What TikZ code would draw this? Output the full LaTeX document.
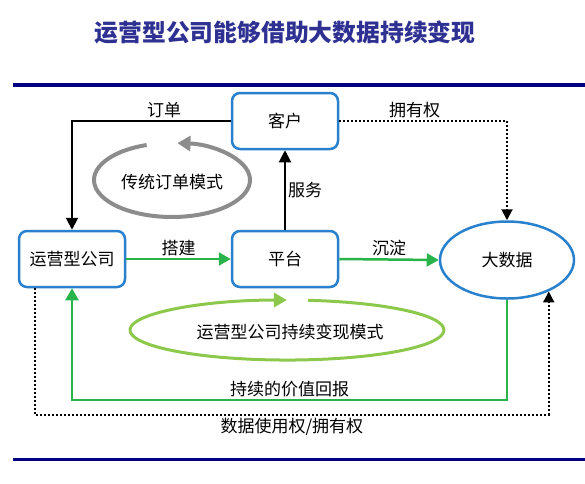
\documentclass[tikz,border=0pt]{standalone}
\usepackage{fontspec}
\setmainfont{Noto Sans CJK SC}
\usetikzlibrary{arrows.meta}
\usetikzlibrary{shapes.geometric}

\definecolor{boxblue}{RGB}{41,128,205}
\definecolor{arrgreen}{RGB}{40,180,75}
\definecolor{cycgreen}{RGB}{140,200,75}
\definecolor{cycgray}{RGB}{140,140,140}
\definecolor{rulenavy}{RGB}{0,0,128}
\definecolor{titleblue}{RGB}{46,49,146}

\begin{document}
\begin{tikzpicture}[x=1pt,y=1pt,
  box/.style={draw=boxblue, line width=2.5pt, rounded corners=8pt,
    minimum width=106pt, minimum height=56pt, font=\fontsize{17}{17}\selectfont},
  bigdata/.style={ellipse, draw=boxblue, line width=2.5pt,
    minimum width=134pt, minimum height=77pt, font=\fontsize{17}{17}\selectfont},
  lbl/.style={font=\fontsize{17}{17}\selectfont, inner sep=2pt},
  blackarr/.style={line width=2pt, -{Triangle[length=12pt,width=12pt]}},
  greenarr/.style={draw=arrgreen, line width=2.5pt, -{Triangle[length=12pt,width=13pt]}, arrgreen},
  dotarr/.style={line width=2pt, dash pattern=on 2pt off 2pt, -{Triangle[length=11pt,width=11pt]}}]

 \useasboundingbox (0,0) rectangle (585,-483);

 % title and rules
 \node[font=\fontsize{23.8}{24}\selectfont\bfseries, text=titleblue] (title) at (285,-32) {运营型公司能够借助大数据持续变现};
 \draw[rulenavy, line width=4pt] (13,-85) -- (585,-85);
 \draw[rulenavy, line width=3pt] (13,-459) -- (585,-459);

 % boxes
 \node[box] (kehu) at (285,-121) {客户};
 \node[box] (gongsi) at (72,-259) {运营型公司};
 \node[box] (pingtai) at (285,-259) {平台};
 \node[bigdata] (dashuju) at (507,-260) {大数据};

 % cycles
 \draw[cycgray, line width=4pt, -{Triangle[length=13pt,width=15pt]}] (146.6,-145) arc (109:446:78pt and 37pt);
 \node[lbl] (chuantong) at (172,-182) {传统订单模式};
 \draw[cycgreen, line width=3pt, -{Triangle[length=13pt,width=14pt]}] (308,-300.3) arc (82.3:-270:157pt and 30pt);
 \node[lbl] (bianxian) at (290,-332) {运营型公司持续变现模式};

 % connectors
 \draw[blackarr] (kehu.west) -| node[lbl, pos=0.21, above] {订单} (gongsi.north);
 \draw[blackarr] (pingtai.north) -- node[lbl, right] {服务} (pingtai.north |- kehu.south);
 \draw[dotarr] (kehu.east) -| node[lbl, pos=0.225, above] {拥有权} (dashuju.north);
 \draw[greenarr] (gongsi.east) -- node[lbl, above, text=black] {搭建} (pingtai.west);
 \draw[greenarr] (pingtai.east) -- node[lbl, above, text=black] {沉淀} (dashuju.west);

 \coordinate (huibao) at (0,-400);
 \coordinate (shiyong) at (35,-415);
 \draw[greenarr] (dashuju.south) -- (dashuju.south |- huibao) -| node[lbl, pos=0.25, above, text=black] {持续的价值回报} (gongsi.south);
 \draw[dotarr] (gongsi.south -| shiyong) |- node[lbl, pos=0.75, below] {数据使用权/拥有权} (dashuju.-37 |- shiyong) -- (dashuju.-37);

\end{tikzpicture}
\end{document}
